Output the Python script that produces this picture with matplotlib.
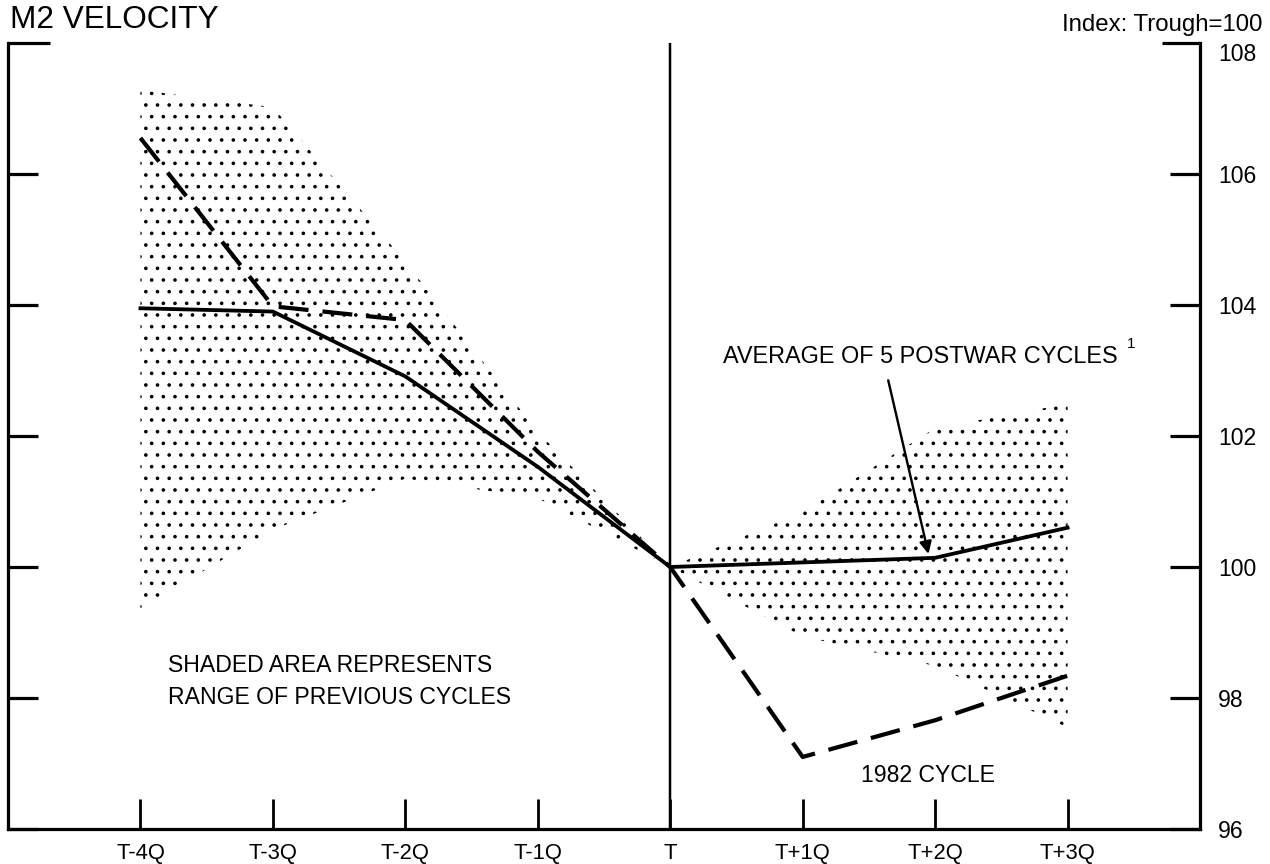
import matplotlib
matplotlib.use("Agg")
import matplotlib.pyplot as plt
from matplotlib.transforms import ScaledTranslation

# ---------------- data ----------------
quarters = [-4, -3, -2, -1, 0, 1, 2, 3]
x_labels = ['T-4Q', 'T-3Q', 'T-2Q', 'T-1Q', 'T', 'T+1Q', 'T+2Q', 'T+3Q']
avg_postwar = [103.95, 103.90, 102.91, 101.53, 100.0, 100.07, 100.14, 100.60]
cycle_1982 = [106.55, 103.98, 103.77, 101.76, 100.0, 97.10, 97.66, 98.34]
range_hi = [107.28, 107.02, 104.66, 102.06, 100.0, 100.84, 102.12, 102.49]
range_lo = [99.37, 100.57, 101.35, 101.05, 100.0, 98.94, 98.49, 97.55]
y_ticks = [96, 98, 100, 102, 104, 106, 108]

DPI = 140
W, H = 1270, 864
P = 72.0 / DPI  # px -> pt

plt.rcParams['font.family'] = ['Liberation Sans', 'DejaVu Sans']
plt.rcParams['hatch.linewidth'] = 0.65
plt.rcParams['hatch.color'] = 'black'
plt.rcParams['lines.scale_dashes'] = False

fig = plt.figure(figsize=(W / DPI, H / DPI), dpi=DPI)
ax = fig.add_axes([8 / W, (H - 829) / H, (1200 - 8) / W, (829 - 43) / H])

ax.set_xlim(-5, 4)
ax.set_ylim(96, 108)

# shaded range
ax.fill_between(quarters, range_lo, range_hi, facecolor='none',
                edgecolor='black', hatch='..', linewidth=0, zorder=1)

# vertical trough line
ax.axvline(0, color='black', lw=2.5 * P, zorder=2)

# lines
ax.plot(quarters, avg_postwar, color='black', lw=3.8 * P, zorder=3,
        solid_joinstyle='round')
ax.plot(quarters, cycle_1982, color='black', lw=4.2 * P, zorder=3,
        dashes=(30 * P, 14 * P), dash_capstyle='butt')

# spines
for s in ['left', 'right', 'bottom']:
    ax.spines[s].set_linewidth(3.2 * P)
ax.spines['top'].set_visible(False)

ax.set_xticks(quarters)
ax.set_xticklabels(x_labels)
ax.set_yticks(y_ticks)
ax.set_yticklabels([str(v) for v in y_ticks])
ax.tick_params(axis='x', direction='in', length=30 * P, width=2.8 * P,
               labelsize=22 * P, pad=14 * P)
ax.tick_params(axis='y', direction='in', length=30 * P, width=3.2 * P,
               left=True, right=True, labelleft=False, labelright=True,
               labelsize=23 * P, pad=18 * P)

# longer top ticks, and lower 108 label
for t in ax.yaxis.get_major_ticks():
    if t.get_loc() == 108:
        t.tick1line.set_markersize(42 * P)
        t.tick2line.set_markersize(38 * P)
        t.label2.set_transform(t.label2.get_transform() +
                               ScaledTranslation(0, -9 / DPI, fig.dpi_scale_trans))

# texts
fig.text(10 / W, 1 - 20 / H, 'M2 VELOCITY', fontsize=31.5 * P,
         ha='left', va='center')
fig.text(1262 / W, 1 - 25 / H, 'Index: Trough=100', fontsize=24 * P,
         ha='right', va='center')

ax.text(0.40, 103.21, 'AVERAGE OF 5 POSTWAR CYCLES', fontsize=23.5 * P,
        ha='left', va='center')
ax.text(3.45, 103.40, '1', fontsize=15 * P, ha='left', va='center')
ax.annotate('', xy=(1.95, 100.2), xytext=(1.646, 102.85),
            arrowprops=dict(arrowstyle='-|>', color='black', lw=2.4 * P,
                            mutation_scale=13, shrinkA=0, shrinkB=0))

ax.text(-3.79, 98.49, 'SHADED AREA REPRESENTS', fontsize=23 * P,
        ha='left', va='center')
ax.text(-3.79, 98.0, 'RANGE OF PREVIOUS CYCLES', fontsize=23 * P,
        ha='left', va='center')
ax.text(1.44, 96.81, '1982 CYCLE', fontsize=23 * P, ha='left', va='center')

fig.savefig('out.png', dpi=DPI, facecolor='white')
